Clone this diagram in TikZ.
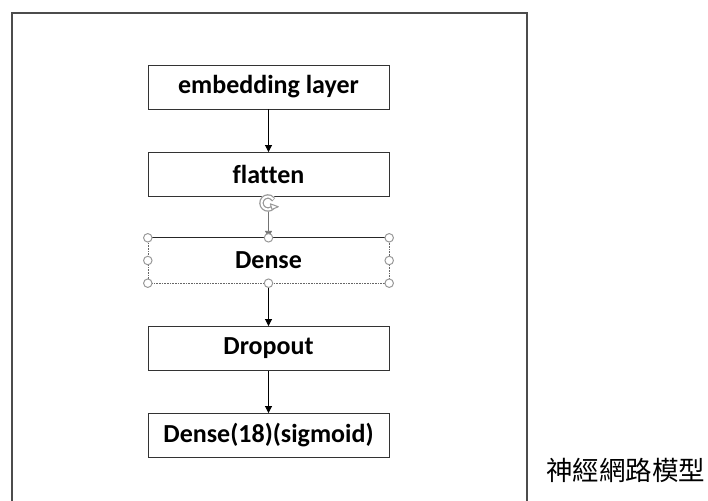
\documentclass[tikz,border=0pt]{standalone}
\usepackage{fontspec}
\setmainfont[Ligatures=CommonOff]{Carlito}
\newfontfamily\cjk{Noto Sans CJK TC}
\usetikzlibrary{arrows.meta}
\tikzset{
  layerfont/.style={font=\fontsize{26}{30}\selectfont\bfseries},
  layerbox/.style={draw=black!80, line width=0.9pt, minimum width=241pt, minimum height=44pt,
    inner sep=0pt, layerfont},
  flow/.style={draw=black, line width=0.9pt, -{Triangle[length=7pt,width=7pt]}},
  handle/.style={circle, draw=black!40, fill=white, line width=1pt, minimum size=8.5pt, inner sep=0pt},
  selline/.style={draw=black!60, line width=0.6pt, densely dotted},
  frame/.style={draw=black!70, line width=1.3pt}
}
\begin{document}
\begin{tikzpicture}[x=1pt,y=-1pt]
  \useasboundingbox (0,0) rectangle (708,500);
  % outer frame, open at the bottom
  \draw[frame] (12,510) -- (12,13) -- (527,13) -- (527,510);

  % layers
  \node[layerbox] (emb) at (268.5,87) {embedding layer};
  \node[layerbox] (flat) at (268.5,174.5) {flatten};
  \node[minimum width=241pt, minimum height=45pt, inner sep=0pt, layerfont] (dense) at (268.5,260.5) {Dense};
  \node[layerbox] (drop) at (268.5,348.5) {Dropout};
  \node[layerbox] (out) at (268.5,435.5) {Dense(18)(sigmoid)};

  % connectors
  \draw[flow] (emb.south) -- (flat.north);
  \draw[flow, draw=black!55] (flat.south) -- (dense.north);
  \draw[flow] (dense.south) -- (drop.north);
  \draw[flow] (drop.south) -- (out.north);

  % selection outline of the Dense box
  \draw[selline] (dense.north east) -- (dense.south east) -- (dense.south west) -- (dense.north west);
  \draw[black!85, line width=0.8pt] (dense.north west) -- (dense.north east);
  \foreach \a in {north west,north,north east,west,east,south west,south,south east}
    \node[handle] at (dense.\a) {};

  % rotation handle: outlined circular arrow
  \coordinate (rot) at (268,203);
  \fill[white] (rot) circle (9pt);
  \draw[black!40, line width=4.5pt] ([shift={(-20:6.5pt)}]rot) arc[start angle=-20, end angle=-330, radius=6.5pt];
  \draw[white, line width=2pt] ([shift={(-20:6.5pt)}]rot) arc[start angle=-20, end angle=-325, radius=6.5pt];
  \filldraw[fill=white, draw=black!40, line width=1pt, line join=round]
    ([shift={(-20:2.5pt)}]rot) -- ([shift={(-20:11pt)}]rot) -- ([shift={(-58:7.5pt)}]rot) -- cycle;

  % caption
  \node[font=\cjk\fontsize{26.5}{30}\selectfont, anchor=west, inner sep=0pt] (cap) at (546,470) {神經網路模型};
\end{tikzpicture}
\end{document}
